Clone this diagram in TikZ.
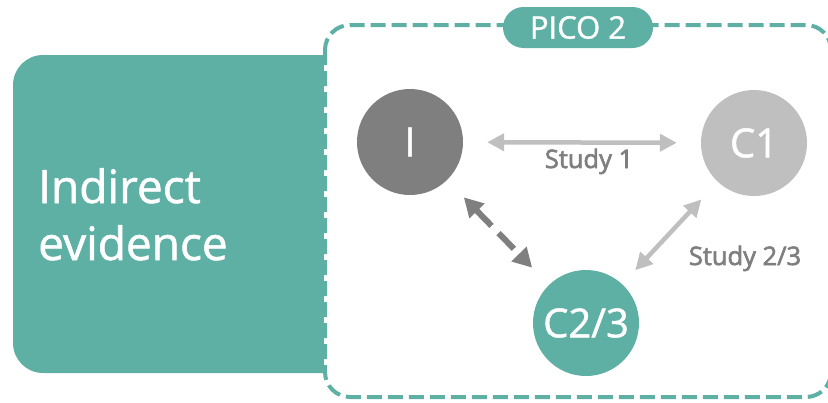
\documentclass[tikz,border=0pt]{standalone}
\usepackage{fontspec}
\setmainfont{Open Sans}[FakeBold=1.2]
\newfontfamily\semib{Open Sans}[FakeBold=2.4]
\usetikzlibrary{arrows.meta}
\definecolor{pteal}{HTML}{5EB0A5}
\definecolor{darkg}{HTML}{7F7F7F}
\definecolor{lightg}{HTML}{BFBFBF}
\begin{document}
\begin{tikzpicture}[x=1pt,y=-1pt,
  circ/.style={circle,minimum size=106pt,inner sep=0pt,text=white,
    font=\fontsize{40}{40}\selectfont},
  bigtxt/.style={inner sep=0pt,anchor=base west,text=white,
    font=\fontsize{46}{46}\selectfont},
  link/.style={line width=4.5pt,lightg,
    {Triangle[length=17pt,width=17pt]}-{Triangle[length=17pt,width=17pt]},
    shorten <=24pt,shorten >=24pt},
  dlink/.style={line width=6pt,darkg,dash pattern=on 22pt off 10pt,
    {Triangle[length=19pt,width=20pt]}-{Triangle[length=19pt,width=20pt]},
    shorten <=24pt,shorten >=24pt},
  lbl/.style={inner sep=0pt,anchor=base,text=darkg,
    font=\fontsize{25.5}{25.5}\semib}]
\useasboundingbox (0,0) rectangle (828,402);

% evidence panel, straight on its right side
\begin{scope}
  \clip (0,0) rectangle (325,402);
  \fill[pteal,rounded corners=30pt] (13,55) rectangle (360,373);
\end{scope}
\node[bigtxt] (ind1) at (38,203) {Indirect};
\node[bigtxt] (ind2) at (38,260) {evidence};

% dashed frame of the comparison
\draw[white,line width=2pt,rounded corners=25pt] (325,25) rectangle (831,397);
\draw[pteal,line width=4pt,dash pattern=on 15pt off 6pt,rounded corners=25pt]
  (325,25) rectangle (831,397);

% frame title
\node[fill=pteal,rounded corners=20.5pt,minimum width=150pt,minimum height=41pt,
  inner sep=0pt,text=white,font=\fontsize{31}{31}\selectfont] (pico) at (578,27.5) {PICO 2};

% treatments
\node[circ,fill=darkg] (I) at (410,142) {I};
\node[circ,fill=lightg] (C1) at (754,143) {C1};
\node[circ,fill=pteal] (C23) at (586,323) {C2/3};

% comparisons
\draw[link] (I) -- (C1);
\draw[link,shorten >=19pt] (C1) -- (C23);
\draw[dlink] (I) -- (C23);

\node[lbl] (s1) at (589,168) {Study 1};
\node[lbl] (s23) at (745,265) {Study 2/3};
\end{tikzpicture}
\end{document}
